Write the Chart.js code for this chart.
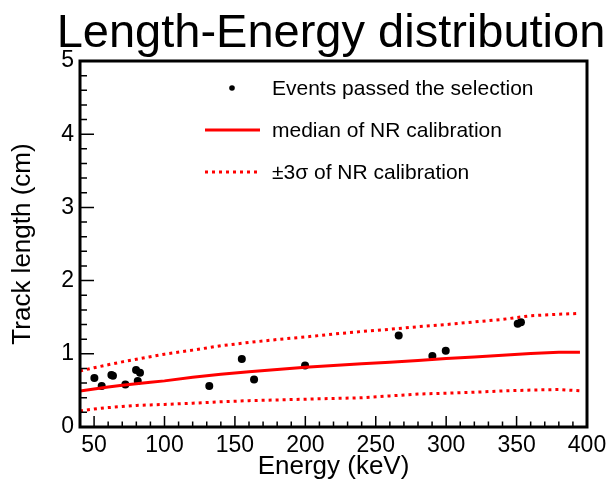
<!DOCTYPE html>
<html>
<head>
<meta charset="utf-8">
<script src="https://cdn.jsdelivr.net/npm/chart.js@4.4.0/dist/chart.umd.min.js"></script>
<style>
  body { margin: 0; background: #fff; }
</style>
</head>
<body>
<canvas id="chart" width="615" height="484"></canvas>
<script>
// events passing the selection
var eventE = [50.2, 55.4, 62.3, 63.4, 72.2, 79.8, 82.6, 81.0, 131.8, 154.9, 163.6, 199.8, 266.3, 290.2, 299.7, 350.8, 353.1];
var eventL = [0.67, 0.56, 0.71, 0.70, 0.58, 0.78, 0.74, 0.63, 0.56, 0.93, 0.65, 0.84, 1.25, 0.97, 1.04, 1.41, 1.43];

// NR calibration bands
var calE   = [40, 50, 60, 70, 80, 90, 100, 120, 140, 160, 180, 200, 220, 240, 260, 280, 300, 320, 340, 360, 380, 395];
var median = [0.49, 0.52, 0.545, 0.57, 0.59, 0.61, 0.63, 0.68, 0.72, 0.755, 0.785, 0.815, 0.84, 0.865, 0.885, 0.91, 0.935, 0.955, 0.98, 1.005, 1.02, 1.02];
var upper  = [0.765, 0.81, 0.85, 0.89, 0.925, 0.96, 0.995, 1.05, 1.11, 1.155, 1.195, 1.23, 1.27, 1.305, 1.335, 1.37, 1.40, 1.435, 1.47, 1.52, 1.54, 1.553];
var lower  = [0.22, 0.245, 0.265, 0.28, 0.295, 0.302, 0.308, 0.325, 0.345, 0.36, 0.37, 0.38, 0.39, 0.40, 0.425, 0.45, 0.462, 0.475, 0.492, 0.505, 0.512, 0.495];

var xTicks = [50, 100, 150, 200, 250, 300, 350, 400];
var yTicks = [0, 1, 2, 3, 4, 5];

var FONT = '"Liberation Sans", Arial, Helvetica, sans-serif';

function pts(xs, ys) {
  return xs.map(function(x, i) { return {x: x, y: ys[i]}; });
}

// ROOT-like frame, inside ticks, title and legend
var rootStyle = {
  id: 'rootStyle',
  afterDatasetsDraw: function(chart) {
    var ctx = chart.ctx, a = chart.chartArea;
    var xs = chart.scales.x, ys = chart.scales.y;
    ctx.save();
    ctx.strokeStyle = '#000';
    ctx.lineWidth = 1.5;
    ctx.beginPath();
    for (var v = 50; v < 400; v += 10) {
      var px = xs.getPixelForValue(v);
      var len = (v % 50 === 0) ? 11 : 5.5;
      ctx.moveTo(px, a.bottom);
      ctx.lineTo(px, a.bottom - len);
    }
    for (var k = 1; k < 25; k++) {
      var yv = k * 0.2;
      var py = ys.getPixelForValue(yv);
      var l2 = (k % 5 === 0) ? 14 : 7;
      ctx.moveTo(a.left, py);
      ctx.lineTo(a.left + l2, py);
    }
    ctx.stroke();

    ctx.lineWidth = 3;
    ctx.strokeRect(a.left, a.top, a.right - a.left, a.bottom - a.top);

    // title
    ctx.fillStyle = '#000';
    ctx.font = '47px ' + FONT;
    ctx.textAlign = 'center';
    ctx.textBaseline = 'alphabetic';
    ctx.fillText('Length-Energy distribution', 331, 47);

    // legend
    ctx.font = '21px ' + FONT;
    ctx.textAlign = 'left';
    ctx.textBaseline = 'middle';
    ctx.fillText('Events passed the selection', 272, 89);
    ctx.fillText('median of NR calibration', 272, 131);
    ctx.fillText('\u00b13\u03c3 of NR calibration', 272, 173);

    ctx.beginPath();
    ctx.arc(232, 88, 2.8, 0, Math.PI * 2);
    ctx.fill();

    ctx.strokeStyle = '#ff0000';
    ctx.lineWidth = 3;
    ctx.beginPath();
    ctx.moveTo(205, 130);
    ctx.lineTo(260, 130);
    ctx.stroke();
    ctx.setLineDash([3, 4]);
    ctx.beginPath();
    ctx.moveTo(205, 172);
    ctx.lineTo(260, 172);
    ctx.stroke();
    ctx.restore();
  }
};

var ctx = document.getElementById('chart').getContext('2d');
var chart = new Chart(ctx, {
  type: 'scatter',
  data: {
    datasets: [
      {
        label: 'median of NR calibration',
        data: pts(calE, median),
        showLine: true,
        borderColor: '#ff0000',
        borderWidth: 3,
        pointRadius: 0,
        tension: 0
      },
      {
        label: '+3 sigma',
        data: pts(calE, upper),
        showLine: true,
        borderColor: '#ff0000',
        borderWidth: 3,
        borderDash: [3, 4],
        pointRadius: 0,
        tension: 0
      },
      {
        label: '-3 sigma',
        data: pts(calE, lower),
        showLine: true,
        borderColor: '#ff0000',
        borderWidth: 3,
        borderDash: [3, 4],
        pointRadius: 0,
        tension: 0
      },
      {
        label: 'Events passed the selection',
        data: pts(eventE, eventL),
        backgroundColor: '#000',
        borderColor: '#000',
        pointRadius: 4,
        pointBorderWidth: 0
      }
    ]
  },
  options: {
    responsive: false,
    animation: false,
    layout: { padding: { top: 61, right: 28, left: 0, bottom: 0 } },
    plugins: {
      legend: { display: false },
      tooltip: { enabled: false }
    },
    scales: {
      x: {
        type: 'linear',
        min: 40,
        max: 400,
        afterBuildTicks: function(s) { s.ticks = xTicks.map(function(v) { return {value: v}; }); },
        afterFit: function(s) { s.height = 57; },
        grid: { display: false, drawTicks: false },
        border: { display: false },
        ticks: { color: '#000', padding: 5, maxRotation: 0, font: { family: FONT, size: 23 } },
        title: {
          display: true,
          text: 'Energy (keV)',
          color: '#000',
          font: { family: FONT, size: 26, lineHeight: 1 },
          padding: { top: 0, bottom: 4 }
        }
      },
      y: {
        type: 'linear',
        min: 0,
        max: 5,
        afterBuildTicks: function(s) { s.ticks = yTicks.map(function(v) { return {value: v}; }); },
        afterFit: function(s) { s.width = 80; },
        grid: { display: false, drawTicks: false },
        border: { display: false },
        ticks: { color: '#000', padding: 6, font: { family: FONT, size: 23 } },
        title: {
          display: true,
          text: 'Track length (cm)',
          color: '#000',
          font: { family: FONT, size: 26, lineHeight: 1 },
          padding: { top: 10, bottom: 0 }
        }
      }
    }
  },
  plugins: [rootStyle]
});
</script>
</body>
</html>
